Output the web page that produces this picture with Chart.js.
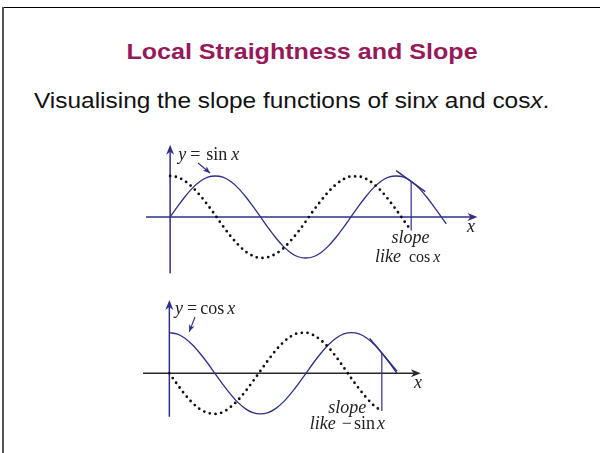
<!DOCTYPE html>
<html>
<head>
<meta charset="utf-8">
<script src="https://cdn.jsdelivr.net/npm/chart.js@4"></script>
<style>
  body { margin: 0; width: 600px; height: 453px; background: #fff; position: relative; overflow: hidden; }
  .edge-top { position: absolute; left: 2px; right: 0; top: 7px; height: 1px; background: #000; }
  .edge-left { position: absolute; left: 2px; top: 7px; bottom: 0; width: 2px; background: #555; }
  h1 { position: absolute; left: 2px; width: 600px; top: 41px; margin: 0; text-align: center;
       font: bold 22px/22px "Liberation Sans", Arial, sans-serif; color: #961a5a;
       transform: scaleX(1.14); transform-origin: 300px 0; }
  p { position: absolute; left: 34px; top: 90px; margin: 0; white-space: nowrap;
      font: 22px/22px "Liberation Sans", Arial, sans-serif; color: #111;
      transform: scaleX(1.11); transform-origin: 0 0; }
  canvas { position: absolute; }
  #upper { left: 140px; top: 140px; }
  #lower { left: 139px; top: 290px; }
</style>
</head>
<body>
<div class="edge-top"></div>
<div class="edge-left"></div>
<h1>Local Straightness and Slope</h1>
<p>Visualising the slope functions of sin<i>x</i> and cos<i>x</i>.</p>
<canvas id="upper" width="350" height="140"></canvas>
<canvas id="lower" width="300" height="160"></canvas>
<script>
// angles in degrees
const upperX = [0, 15, 30, 45, 60, 75, 90, 105, 120, 135, 150, 165, 180, 195, 210, 225, 240, 255, 270,
  285, 300, 315, 330, 345, 360, 375, 390, 405, 420, 435, 450, 465, 480, 495, 510, 525, 540, 550];
const sinValues = [0, 0.26, 0.5, 0.71, 0.87, 0.97, 1, 0.97, 0.87, 0.71, 0.5, 0.26, 0, -0.26, -0.5, -0.71, -0.87, -0.97, -1,
  -0.97, -0.87, -0.71, -0.5, -0.26, 0, 0.26, 0.5, 0.71, 0.87, 0.97, 1, 0.97, 0.87, 0.71, 0.5, 0.26, 0, -0.17];

const upperSlopeX = [0, 15, 30, 45, 60, 75, 90, 105, 120, 135, 150, 165, 180, 195, 210, 225, 240,
  255, 270, 285, 300, 315, 330, 345, 360, 375, 390, 405, 420, 435, 450, 465, 480];
const upperSlopeValues = [1, 0.97, 0.87, 0.72, 0.52, 0.29, 0.04, -0.22, -0.46, -0.67, -0.84, -0.95, -1, -0.98, -0.9, -0.77, -0.58,
  -0.36, -0.11, 0.15, 0.39, 0.61, 0.79, 0.92, 0.99, 0.99, 0.93, 0.81, 0.64, 0.42, 0.18, -0.08, -0.33];

const lowerX = [0, 15, 30, 45, 60, 75, 90, 105, 120, 135, 150, 165, 180, 195, 210, 225,
  240, 255, 270, 285, 300, 315, 330, 345, 360, 375, 390, 405, 420, 435, 450];
const cosValues = [1, 0.97, 0.87, 0.71, 0.5, 0.26, 0, -0.26, -0.5, -0.71, -0.87, -0.97, -1, -0.97, -0.87, -0.71,
  -0.5, -0.26, 0, 0.26, 0.5, 0.71, 0.87, 0.97, 1, 0.97, 0.87, 0.71, 0.5, 0.26, 0];

const lowerSlopeX = [0, 15, 30, 45, 60, 75, 90, 105, 120, 135, 150, 165, 180, 195, 210,
  225, 240, 255, 270, 285, 300, 315, 330, 345, 360, 375, 390, 405, 420];
const lowerSlopeValues = [0, -0.26, -0.51, -0.72, -0.88, -0.97, -1, -0.96, -0.84, -0.67, -0.45, -0.2, 0.06, 0.32, 0.56,
  0.76, 0.91, 0.99, 1, 0.94, 0.81, 0.63, 0.4, 0.14, -0.13, -0.38, -0.61, -0.8, -0.93];

// tangent segments and the drop line from the curve to its slope value
const upperTangentX = [450, 508];
const upperTangentY = [1.13, 0.62];
const upperDropX = [480, 480];
const upperDropY = [0.87, -0.33];

const lowerTangentX = [396, 450];
const lowerTangentY = [0.86, 0.05];
const lowerDropX = [420, 420];
const lowerDropY = [0.5, -0.93];

const NAVY = '#2d3087';
const INK = '#111';
const SERIF = '"Liberation Serif", "Times New Roman", serif';

const pts = (xs, ys) => xs.map((x, i) => ({ x, y: ys[i] }));

function curve(xs, ys) {
  return { data: pts(xs, ys), borderColor: NAVY, borderWidth: 1.3, cubicInterpolationMode: 'monotone' };
}
function dotted(xs, ys) {
  return {
    data: pts(xs, ys), borderColor: INK, borderWidth: 2.8, borderDash: [0, 5.8],
    borderCapStyle: 'round', cubicInterpolationMode: 'monotone',
  };
}
function segment(xs, ys, width) {
  return { data: pts(xs, ys), borderColor: NAVY, borderWidth: width };
}

function arrowHead(ctx, x, y, angle, color) {
  ctx.save();
  ctx.translate(x, y);
  ctx.rotate(angle);
  ctx.fillStyle = color;
  ctx.beginPath();
  ctx.moveTo(0, 0);
  ctx.lineTo(-10, -4);
  ctx.lineTo(-7, 0);
  ctx.lineTo(-10, 4);
  ctx.closePath();
  ctx.fill();
  ctx.restore();
}

function mathText(ctx, x, y, parts) {
  let cx = x;
  parts.forEach(([text, font, gap]) => {
    cx += gap || 0;
    ctx.font = font;
    ctx.fillText(text, cx, y);
    cx += ctx.measureText(text).width;
  });
}

function frame(cfg) {
  return {
    id: 'frame',
    beforeDatasetsDraw(chart) {
      const { ctx, scales: { x, y } } = chart;
      const ox = x.getPixelForValue(0);
      const oy = y.getPixelForValue(0);
      ctx.save();
      ctx.lineWidth = 1.5;
      const x0 = x.getPixelForValue(cfg.xAxis[0]);
      const x1 = x.getPixelForValue(cfg.xAxis[1]);
      ctx.strokeStyle = cfg.xColor;
      ctx.beginPath(); ctx.moveTo(x0, oy); ctx.lineTo(x1 - 5, oy); ctx.stroke();
      arrowHead(ctx, x1, oy, 0, cfg.xColor);
      const y0 = y.getPixelForValue(cfg.yAxis[0]);
      const y1 = y.getPixelForValue(cfg.yAxis[1]);
      ctx.strokeStyle = NAVY;
      ctx.beginPath(); ctx.moveTo(ox, y0); ctx.lineTo(ox, y1 + 5); ctx.stroke();
      arrowHead(ctx, ox, y1, -Math.PI / 2, NAVY);
      ctx.restore();
    },
    afterDatasetsDraw(chart) {
      const { ctx, scales: { x, y } } = chart;
      ctx.save();
      // pointer from the equation to its curve
      const [p0, p1] = cfg.pointer;
      const ax = x.getPixelForValue(p0[0]), ay = y.getPixelForValue(p0[1]);
      const bx = x.getPixelForValue(p1[0]), by = y.getPixelForValue(p1[1]);
      ctx.strokeStyle = NAVY;
      ctx.lineWidth = 1.1;
      ctx.beginPath(); ctx.moveTo(ax, ay); ctx.lineTo(bx, by); ctx.stroke();
      const ang = Math.atan2(by - ay, bx - ax);
      ctx.save();
      ctx.translate(bx, by); ctx.rotate(ang);
      ctx.fillStyle = NAVY;
      ctx.beginPath(); ctx.moveTo(0, 0); ctx.lineTo(-7, -3); ctx.lineTo(-5, 0); ctx.lineTo(-7, 3); ctx.closePath(); ctx.fill();
      ctx.restore();

      ctx.fillStyle = '#222';
      ctx.textBaseline = 'alphabetic';
      cfg.labels.forEach(({ at, parts }) => {
        mathText(ctx, x.getPixelForValue(at[0]), y.getPixelForValue(at[1]), parts);
      });
      ctx.restore();
    },
  };
}

function panel(id, range, datasets, cfg) {
  return new Chart(document.getElementById(id), {
    type: 'line',
    data: { datasets },
    options: {
      responsive: false,
      animation: false,
      devicePixelRatio: 1,
      layout: { padding: 0, autoPadding: false },
      elements: { point: { radius: 0 } },
      plugins: { legend: { display: false }, tooltip: { enabled: false } },
      scales: {
        x: { type: 'linear', display: false, min: range.x[0], max: range.x[1] },
        y: { type: 'linear', display: false, min: range.y[0], max: range.y[1] },
      },
    },
    plugins: [frame(cfg)],
  });
}

const it18 = `italic 18px ${SERIF}`;
const rm18 = `18px ${SERIF}`;
const it16 = `italic 16px ${SERIF}`;
const rm16 = `16px ${SERIF}`;

panel('upper', { x: [-60, 637], y: [-1.537, 1.878] }, [
  dotted(upperSlopeX, upperSlopeValues),
  curve(upperX, sinValues),
  segment(upperTangentX, upperTangentY, 1.4),
  segment(upperDropX, upperDropY, 1.2),
], {
  xAxis: [-48, 612], xColor: NAVY, yAxis: [-1.37, 1.76],
  pointer: [[55.6, 1.317], [79.5, 1.073]],
  labels: [
    { at: [16, 1.40], parts: [['y', it18], ['=', rm18, 4], ['sin', rm18, 6], ['x', it18, 4]] },
    { at: [591, -0.36], parts: [['x', it18]] },
    { at: [441, -0.63], parts: [['slope', it18]] },
    { at: [408, -1.09], parts: [['like', it18], ['cos', rm16, 8], ['x', it16, 3]] },
  ],
});

panel('lower', { x: [-60, 533], y: [-1.889, 2.052] }, [
  dotted(lowerSlopeX, lowerSlopeValues),
  curve(lowerX, cosValues),
  segment(lowerTangentX, lowerTangentY, 1.4),
  segment(lowerDropX, lowerDropY, 1.2),
], {
  xAxis: [-52, 497], xColor: '#262633', yAxis: [-1.07, 1.805],
  pointer: [[50.7, 1.387], [39.4, 1.025]],
  labels: [
    { at: [11.2, 1.45], parts: [['y', it18], ['=', rm18, 4], ['cos', rm18, 3], ['x', it18, 3]] },
    { at: [483.7, -0.36], parts: [['x', it18]] },
    { at: [314, -0.97], parts: [['slope', it18]] },
    { at: [277.6, -1.38], parts: [['like', it18], ['\u2212', rm18, 6], ['sin', rm18, 2], ['x', it18, 2]] },
  ],
});
</script>
</body>
</html>
